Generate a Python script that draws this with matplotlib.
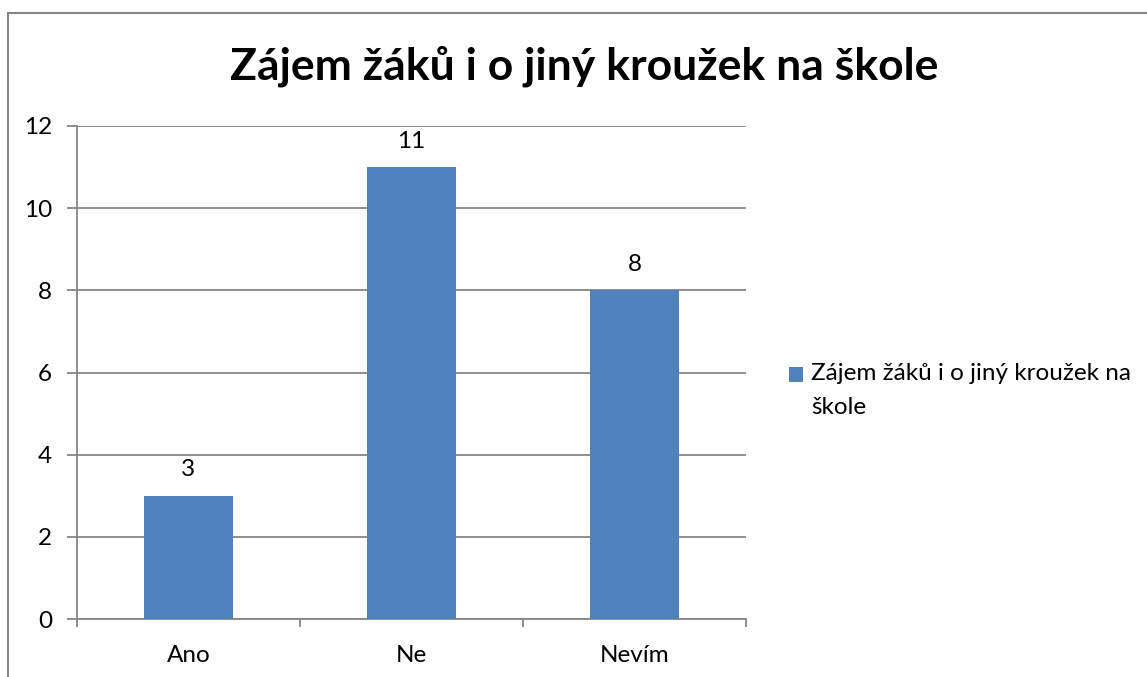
import matplotlib.pyplot as plt
from matplotlib.patches import Rectangle
import numpy as np

categories = ["Ano", "Ne", "Nevím"]
values = [3, 11, 8]
series_name = ["Zájem žáků i o jiný kroužek na", "škole"]
title = "Zájem žáků i o jiný kroužek na škole"
y_ticks = [0, 2, 4, 6, 8, 10, 12]

bar_color = "#4F81BD"
grid_color = "#868686"
fs = 17.5

plt.rcParams["font.family"] = ["Lato", "DejaVu Sans"]

W, H = 1147, 677
fig = plt.figure(figsize=(W / 100, H / 100), dpi=100)

# outer chart border (only top/left visible in the crop)
fig.patches.append(Rectangle((8 / W, -0.1), 1.2, 1 - 13 / H + 0.1, transform=fig.transFigure,
                             fill=False, edgecolor="#868686", linewidth=1.5))

ax = fig.add_axes([77 / W, 1 - 619 / H, (746 - 77) / W, (619 - 126) / H])

x = np.arange(len(categories))
ax.bar(x, values, width=0.4, color=bar_color, zorder=3)
for xi, v in zip(x, values):
    ax.annotate(str(v), (xi, v), xytext=(0, 11), textcoords="offset points",
                ha="center", va="bottom", fontsize=fs)

ax.set_xlim(-0.5, len(categories) - 0.5)
ax.set_ylim(0, 12)
ax.set_yticks(y_ticks)
ax.yaxis.grid(True, color=grid_color, linewidth=1.3, zorder=0)
ax.set_axisbelow(True)

# x ticks at category boundaries, labels in the middle
ax.set_xticks(np.arange(len(categories) + 1) - 0.5)
ax.set_xticklabels([])
ax.set_xticks(x, minor=True)
ax.set_xticklabels(categories, minor=True, fontsize=fs)
ax.tick_params(axis="x", which="major", length=6, width=1.3, color=grid_color, direction="out")
ax.tick_params(axis="x", which="minor", length=0, pad=19)
ax.tick_params(axis="y", length=7, width=1.3, color=grid_color, labelsize=fs, pad=11)

for s in ["top", "right"]:
    ax.spines[s].set_visible(False)
for s in ["left", "bottom"]:
    ax.spines[s].set_color(grid_color)
    ax.spines[s].set_linewidth(1.3)

fig.text(584 / W, 1 - 66 / H, title, ha="center", va="center", fontsize=32, fontweight="bold")

# legend
fig.patches.append(Rectangle((789 / W, 1 - 382 / H), 14 / W, 15 / H, transform=fig.transFigure,
                             facecolor=bar_color, edgecolor="none"))
fig.text(811 / W, 1 - 374 / H, series_name[0], ha="left", va="center", fontsize=fs)
fig.text(811 / W, 1 - 408 / H, series_name[1], ha="left", va="center", fontsize=fs)

fig.savefig("out.png", dpi=100)
